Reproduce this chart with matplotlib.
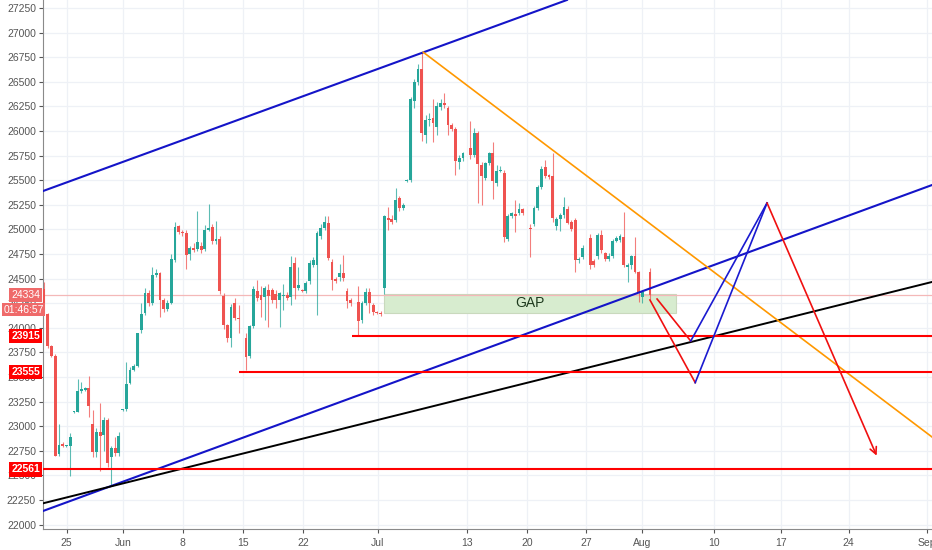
import numpy as np
import matplotlib.pyplot as plt
from matplotlib.transforms import blended_transform_factory

plt.rcParams['font.family'] = ['Liberation Sans', 'DejaVu Sans']

# --- candle data (one bar per list entry, None = no bar) ---
opens = [24395, 24141, 23816, 23717, 22715, 22820, 22800, 22800, 23140, 23148,
         23355, 23370, 23392, 23020, 22740, 22945, 22915, 23060, 22685, 22780,
         22725, 23165, 23175, 23443, 23570, 23610, 23980, 24150, 24357, 24255,
         24540, 24555, 24285, 24190, 24255, 24690, 25030, 24975, 24960, 24755,
         24810, 24800, 24830, 24800, 24995, 25020, 24885, 24900, 24325, 24030,
         23895, 24250, 24100, None, 23900, 23710, 24020, 24370, 24330, 24310,
         24380, 24385, 24340, 24285, 24320, 24330, 24315, 24660, 24400, 24380,
         24370, 24480, 24640, 24640, 24930, 25010, 25070, 24670, 24500, 24520,
         24560, 24375, 24280, None, 24265, 24080, 24250, 24365, 24230, 24165,
         24150, 24400, 25120, 25105, 25100, 25315, 25220, 25490, 25500, 26300,
         26495, 26625, 25955, 26110, 26130, 26045, 26240, 26280, 26230, 26060,
         26025, 25680, 25725, None, 25830, 25755, 25975, 25655, 25520, 25670,
         25775, 25470, 25595, 25570, 24905, 25140, 25150, 25165, 25205, None,
         25010, 25055, 25215, 25430, 25630, 25550, 25545, 25035, 25105, 25145,
         25205, 25080, 25100, 24690, 24720, None, 24910, 24680, 24730, 24945,
         24760, 24695, 24730, 24885, 24890, 24920, 24615, 24640, 24725, 24570,
         24315, None, 24570]
highs = [24470, 24150, 23830, 23730, 23020, 22840, 22810, 22935, 23150, 23477,
         23450, 23400, 23511, 23165, 22980, 23240, 23090, 23080, 22800, 22890,
         22940, 23180, 23650, 23600, 23630, 23950, 24250, 24400, 24380, 24615,
         24600, 24570, 24300, 24280, 24750, 25080, 25045, 24990, 24990, 24830,
         24860, 25190, 24870, 25040, 25260, 25050, 25090, 24930, 24350, 24040,
         24240, 24300, 24230, None, 23950, 24030, 24420, 24490, 24430, 24430,
         24450, 24400, 24380, 24360, 24450, 24360, 24730, 24720, 24620, 24390,
         24480, 24690, 24720, 24980, 25050, 25140, 25140, 24700, 24520, 24650,
         24740, 24400, 24300, None, 24420, 24270, 24400, 24400, 24250, 24170,
         24170, 25150, 25230, 25150, 25420, 25340, 25270, 25510, 26350, 26530,
         26680, 26800, 26160, 26180, 26330, 26290, 26330, 26390, 26250, 26080,
         26040, 25760, 25790, None, 26100, 26030, 26000, 25680, 25690, 25790,
         25890, 25650, 25640, 25600, 25160, 25180, 25300, 25270, 25220, None,
         25050, 25240, 25450, 25640, 25710, 25560, 25775, 25130, 25170, 25330,
         25240, 25100, 25120, 24720, 24840, None, 24950, 24700, 24960, 24995,
         24770, 24760, 24900, 24930, 24950, 25180, 24660, 24740, 24925, 24580,
         24380, None, 24605]
lows = [24130, 23800, 23700, 22700, 22700, 22790, 22790, 22498, 23135, 23140,
        23340, 23360, 23097, 22690, 22690, 22550, 22750, 22590, 22400, 22700,
        22700, 23160, 23160, 23430, 23560, 23600, 23950, 24130, 24220, 24230,
        24520, 24115, 24165, 24170, 24240, 24670, 24950, 24930, 24600, 24690,
        24770, 24780, 24760, 24780, 24980, 24850, 24850, 24340, 23990, 23860,
        23810, 24080, 23950, None, 23572, 23690, 24000, 24270, 24110, 24080,
        24010, 24250, 24200, 24010, 24180, 24280, 24230, 24290, 24380, 24360,
        24350, 24450, 24620, 24130, 24900, 24990, 24690, 24385, 24460, 24480,
        24480, 24200, 24220, None, 23925, 24050, 24230, 24150, 24130, 24140,
        24120, 24344, 24990, 25060, 25080, 25190, 25200, 25480, 25480, 26230,
        26470, 25900, 25875, 26050, 25890, 25960, 26210, 26230, 25960, 26000,
        25555, 25610, 25700, None, 25720, 25740, 25265, 25250, 25500, 25650,
        25310, 25440, 25580, 24875, 24880, 25120, 24970, 25150, 25150, None,
        24720, 25030, 25200, 25410, 25520, 25510, 25080, 24990, 24980, 25120,
        25050, 24980, 24570, 24660, 24700, None, 24600, 24620, 24700, 24760,
        24680, 24680, 24710, 24870, 24870, 24620, 24470, 24600, 24560, 24265,
        24250, None, 24290]
closes = [24141, 23816, 23717, 22701, 22810, 22800, 22800, 22888, 23150, 23358,
          23375, 23390, 23206, 22735, 22945, 22900, 23060, 22625, 22775, 22725,
          22900, 23175, 23426, 23575, 23610, 23945, 24140, 24350, 24250, 24540,
          24560, 24285, 24190, 24255, 24695, 25020, 24975, 24965, 24745, 24810,
          24790, 24870, 24795, 24995, 25018, 24880, 24905, 24370, 24030, 23895,
          24215, 24095, 24085, None, 23707, 24020, 24390, 24300, 24280, 24400,
          24320, 24285, 24285, 24350, 24335, 24300, 24615, 24400, 24435, 24370,
          24460, 24655, 24690, 24960, 25010, 25075, 24710, 24485, 24480, 24560,
          24505, 24275, 24250, None, 24065, 24250, 24367, 24250, 24165, 24150,
          24140, 25137, 25100, 25075, 25300, 25215, 25250, 25500, 26330, 26495,
          26625, 25975, 26110, 26120, 26080, 26250, 26280, 26260, 26060, 26025,
          25695, 25725, 25775, None, 25755, 25975, 25660, 25545, 25670, 25775,
          25490, 25595, 25605, 24925, 25140, 25165, 25140, 25205, 25165, None,
          25000, 25220, 25430, 25615, 25545, 25535, 25115, 25105, 25145, 25230,
          25070, 25000, 24690, 24700, 24815, None, 24640, 24640, 24945, 24790,
          24695, 24730, 24885, 24910, 24930, 24640, 24640, 24725, 24570, 24365,
          24365, None, 24334]

# date ticks (bar index positions) and labels
date_ticks = [6.07, 21.1, 37.1, 53.1, 69.2, 89.2, 113.2, 129.1, 144.9, 160.0,
              179.0, 197.1, 215.1, 236.1]
date_labels = ['25', 'Jun', '8', '15', '22', 'Jul', '13', '20', '27', 'Aug',
               '10', '17', '24', 'Sep']
price_ticks = np.arange(22000, 27251, 250)

# drawings: (bar index, price)
upper_channel = [(-0.27, 25390), (139.8, 27331)]
lower_channel = [(-0.27, 22139), (237.4, 25451)]
black_trend = [(-0.27, 22217), (237.4, 24466)]
orange_trend = [(101.4, 26800), (237.4, 22891)]
levels = [23915, 23555, 22561]
level_starts = [82.4, 52.1, -0.27]
gap_zone = (90.9, 169.0, 24151, 24344)
red_legs = [[(162.0, 24283), (174.1, 23443)], [(163.9, 24293), (172.9, 23866)]]
blue_legs = [[(172.9, 23866), (193.3, 25269)], [(174.1, 23443), (193.3, 25269)]]
final_leg = [(193.3, 25269), (222.6, 22701)]
countdown = '01:46:57'

o = np.array(opens, dtype=float)
h = np.array(highs, dtype=float)
l = np.array(lows, dtype=float)
c = np.array(closes, dtype=float)
idx = np.arange(len(o))
ok = ~np.isnan(o)
up = c >= o
green, red = '#26a69a', '#ef5350'
colors = np.where(up, green, red)

fig = plt.figure(figsize=(9.32, 5.5), dpi=100)
ax = fig.add_axes([43 / 932, 20.7 / 550, 1 - 43 / 932, 529.3 / 550])
x0, x1 = -0.27, 237.4
ax.set_xlim(x0, x1)
ax.set_ylim(21953, 27331)

ax.set_yticks(price_ticks)
ax.set_yticklabels([str(p) for p in price_ticks])
ax.set_xticks(date_ticks)
ax.set_xticklabels(date_labels)
ax.grid(True, color='#eef1f6', lw=0.9)
ax.set_axisbelow(True)
ax.tick_params(axis='both', labelsize=7.5, colors='#555555', length=3, width=0.8, pad=2)
ax.tick_params(axis='x', pad=3)
for s in ['top', 'right']:
    ax.spines[s].set_visible(False)
for s in ['left', 'bottom']:
    ax.spines[s].set_color('#8a8a8a')

# gap zone
gx0, gx1, gy0, gy1 = gap_zone
ax.add_patch(plt.Rectangle((gx0, gy0), gx1 - gx0, gy1 - gy0, facecolor='#d7eccf',
                           edgecolor='#c9d9bd', lw=0.8, zorder=1))
ax.text((gx0 + gx1) / 2, (gy0 + gy1) / 2, 'GAP', ha='center', va='center',
        fontsize=10, color='#1e3a1e', zorder=2)

# current price line
ax.axhline(c[ok][-1], color='#f4b8b8', lw=0.9, zorder=1)

# candles
ax.vlines(idx[ok], l[ok], h[ok], colors=colors[ok], lw=0.8, alpha=0.75, zorder=3)
body = np.maximum(np.abs(c - o), 12)
ax.bar(idx[ok], body[ok], bottom=np.minimum(o, c)[ok], width=0.76,
       color=colors[ok], zorder=4)

# trend lines
ax.axline(*upper_channel, color='#1414c8', lw=1.5, zorder=5)
ax.axline(*lower_channel, color='#1414c8', lw=1.5, zorder=5)
ax.axline(*black_trend, color='black', lw=1.4, zorder=5)
ax.plot(*zip(*orange_trend), color='#ff9800', lw=1.2, zorder=5)
for lv, st in zip(levels, level_starts):
    ax.hlines(lv, st, x1, color='#ff0000', lw=1.5, zorder=5)

# projected path
for leg in red_legs:
    ax.plot(*zip(*leg), color='#f01010', lw=1.2, zorder=6)
for leg in blue_legs:
    ax.plot(*zip(*leg), color='#1a1ad0', lw=1.2, zorder=6)
ax.annotate('', xy=final_leg[1], xytext=final_leg[0],
            arrowprops=dict(arrowstyle='->', color='#f01010', lw=1.2,
                            mutation_scale=12, shrinkA=0, shrinkB=0), zorder=6)

# price labels on the axis
tr = blended_transform_factory(ax.transAxes, ax.transData)
last = c[ok][-1]
box = dict(boxstyle='square,pad=0.2', ec='none')
ax.text(-0.003, last, f'{last:.0f}', transform=tr, ha='right', va='center',
        fontsize=7.5, color='white', zorder=10, bbox=dict(box, fc='#ef6a6a'))
ax.annotate(countdown, xy=(0.001, last), xycoords=tr, xytext=(0, -10.5),
            textcoords='offset points', ha='right', va='center', fontsize=7.5,
            color='white', annotation_clip=False, zorder=10,
            bbox=dict(boxstyle='square,pad=0.12', ec='none', fc='#ef6a6a'))
for lv in levels:
    ax.text(-0.003, lv, str(lv), transform=tr, ha='right', va='center',
            fontsize=7.5, color='white', fontweight='bold', zorder=10,
            bbox=dict(box, fc='#ff0000'))

fig.savefig('out.png', dpi=100)
